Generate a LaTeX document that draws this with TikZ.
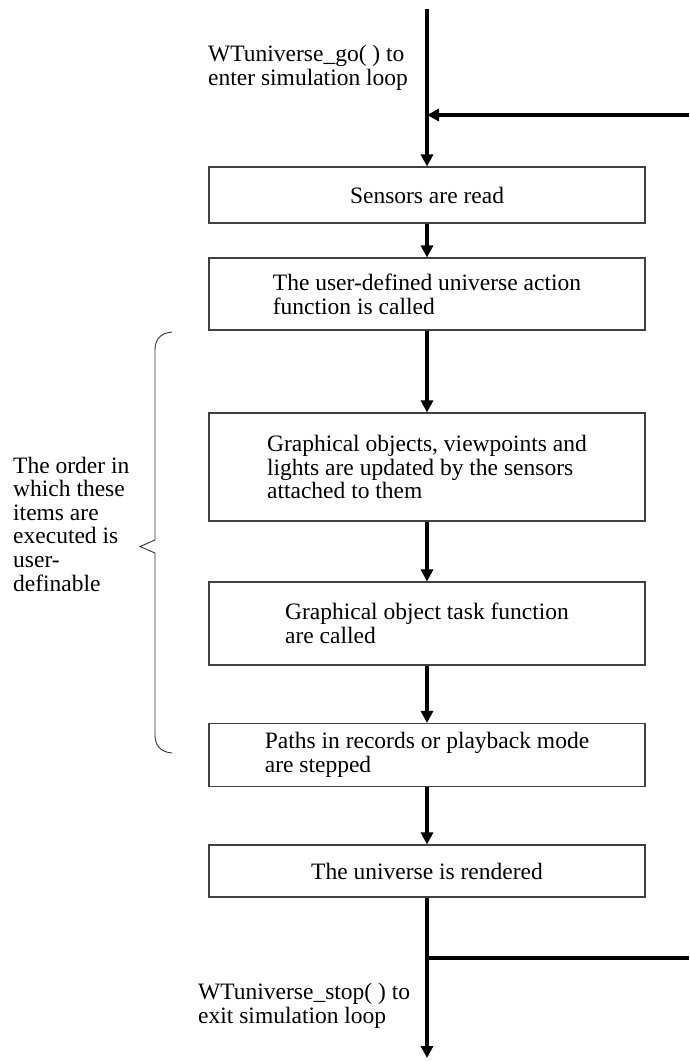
\documentclass[tikz,border=0pt]{standalone}
\usepackage{fontspec}
\setmainfont{Liberation Serif}
\usetikzlibrary{arrows.meta}
\begin{document}
\begin{tikzpicture}[x=1pt,y=-1pt,
  flow/.style={line width=3.6pt,-{Triangle[length=12pt,width=12pt]}},
  plain/.style={line width=3.6pt},
  stepbox/.style={draw=black!75,line width=1.1pt,minimum width=436pt,align=left,inner sep=0pt,font=\fontsize{23.5}{23.8}\selectfont},
  lbl/.style={align=left,inner sep=0pt,font=\fontsize{23.5}{23.6}\selectfont}]
\useasboundingbox (0,0) rectangle (689,1061);
\coordinate (top) at (427,9);
\coordinate (j1) at (427,115);
\coordinate (fb1) at (689,115);
\node[stepbox,minimum height=56pt] (b1) at (427,195) {Sensors are read};
\node[stepbox,minimum height=72pt] (b2) at (427,294) {The user-defined universe action\\function is called};
\node[stepbox,minimum height=108pt] (b3) at (427,467) {Graphical objects, viewpoints and\\lights are updated by the sensors\\attached to them};
\node[stepbox,minimum height=83pt] (b4) at (427,623.5) {Graphical object task function\\are called};
\node[stepbox,minimum height=63pt] (b5) at (427,755) {Paths in records or playback mode\\are stepped};
\node[stepbox,minimum height=52pt] (b6) at (427,871) {The universe is rendered};
\coordinate (j2) at (427,958);
\coordinate (fb2) at (689,958);
\coordinate (bot) at (427,1058);
\draw[plain] (top) -- (j1);
\draw[flow] (j1) -- (b1.north);
\draw[flow] (fb1) -- (j1);
\draw[flow] (b1.south) -- (b2.north);
\draw[flow] (b2.south) -- (b3.north);
\draw[flow] (b3.south) -- (b4.north);
\draw[flow] (b4.south) -- (b5.north);
\draw[flow] (b5.south) -- (b6.north);
\draw[plain] (b6.south) -- (j2);
\draw[plain] (j2) -- (fb2);
\draw[flow] (j2) -- (bot);
\node[lbl,anchor=west] (go) at (208,68) {WTuniverse\_go( ) to\\enter simulation loop};
\node[lbl,anchor=west] (stop) at (198,1006) {WTuniverse\_stop( ) to\\exit simulation loop};
\node[lbl,anchor=west] (order) at (13,524) {The order in\\which these\\items are\\executed is\\user-\\definable};
\draw[line width=0.9pt,black!80] (172,332) .. controls (160,333) and (155,340) .. (155,350)
  -- (155,540) -- (140,546.5) -- (155,553) -- (155,735)
  .. controls (155,745) and (160,752) .. (172,753);
\end{tikzpicture}
\end{document}
